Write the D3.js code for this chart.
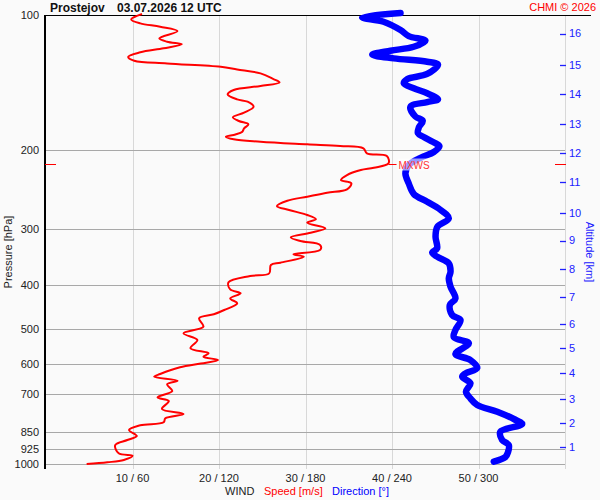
<!DOCTYPE html>
<html><head><meta charset="utf-8">
<script src="https://cdn.jsdelivr.net/npm/d3@7"></script>
<style>
body{margin:0;background:#fafafa;}
svg{display:block;font-family:"Liberation Sans",Arial,sans-serif;}
</style>
</head><body><svg id="c" width="600" height="500"></svg>
<script>
// ---- data ----
const stationName = "Prostejov";
const stationTime = "03.07.2026 12 UTC";
const pressureTicks = [100,200,300,400,500,600,700,850,925,1000];
const gridPressures = [200,300,400,500,600,700,850,925,1000];
const speedTicks = [10,20,30,40,50];
const dirTicks = [60,120,180,240,300];
const altitudeKm = [1,2,3,4,5,6,7,8,9,10,11,12,13,14,15,16];
const altitudeP = [916.5,810,716,628,552,488,424,368,318,276,236,203,175,150,129,110];

const speedP = [99.5,102.3,104.4,106.2,108.6,112.7,114.7,116.2,118.6,121.1,123.9,126.4,128.2,130.4,132.2,134.9,138.9,141.2,143.9,146.9,
  150.2,154.1,156.0,160.1,165,169.0,172.2,175.2,178.8,181.9,184.5,186.6,189.1,191.5,194.1,195.8,198.1,203.3,206.1,214,
  218.9,221.5,227.2,233.1,237.1,244.5,248.8,253.9,259.2,266.4,271.8,278.9,285.1,290.1,298.6,305.5,312.7,318.7,325.3,333.6,
  341.2,345.3,356.2,360.4,376.2,381.4,393.9,408.4,416.8,427.7,438.7,454,464.1,473.7,494.5,511.6,529.5,552.4,566.8,576.8,
  586.7,597.3,609.1,630.3,639.1,652.3,664.5,687.9,710.5,724.1,754.2,773.7,791,807.5,820,840,866.2,884.2,907.4,946.7,
  958.1,979.5,991.3,1000];
const speedMs = [11.1,9.85,10.9,13.2,15.2,13.1,14.0,15.7,13.6,10.9,9.5,10.2,14.0,20.2,22.1,24.8,26.3,27.0,24.8,21.7,
  21.0,22.1,23.3,24.0,22.9,21.6,22.3,23.4,22.9,22.7,21.9,20.8,21.7,24.8,30.2,34.0,36.7,37.1,39.4,39.6,
  37.9,36.4,34.8,34.1,35.3,34.8,32.5,30.2,27.9,26.7,28.1,30.2,31.2,30.2,32.3,30.6,28.3,29.4,31.7,31.7,
  28.6,29.8,27.1,26.0,25.8,23.6,21.1,21.3,22.5,21.3,22.1,20.6,19.4,17.7,18.2,15.9,17.5,16.7,18.8,18.2,
  19.9,17.9,15.5,13.2,12.5,15.2,14.0,14.6,12.9,14.2,13.4,15.9,13.8,13.6,10.9,9.6,10.5,9.4,8.0,8.4,
  10.0,9.0,7.1,4.7];

const dirP = [99,101.2,103.5,108.0,111.4,114.1,117.7,120.1,122.6,124.9,127.1,129.0,135.3,138.9,142.0,145.6,149.4,154.1,156.3,160.1,
  168.4,172.0,178.1,183.4,186.9,193.1,196.1,201.9,208.0,215.9,225.3,237.1,250.4,260.5,269.8,283.7,296.2,311.8,330.9,338.1,
  345.4,357.3,373.1,385.9,402.9,427.7,442.5,465.8,477.8,502.9,522.2,538.4,568.8,586.7,611.3,628.1,639.1,661.0,690.4,714.2,
  738.9,764.7,793.9,814.6,847.4,884.2,907.4,942.9,964.5,988.2];
const dirDeg = [245.9,219.3,234.1,245.9,251.6,263.2,255.1,238.9,226.3,241.2,264.4,271.9,264.4,250.7,248.2,255.1,264.4,271.9,264.4,252.8,
  256.3,261.3,258.6,258.0,262.0,270.2,272.9,269.0,259.8,251.6,249.3,251.6,255.1,264.4,272.4,279.4,271.5,270.2,271.3,267.9,
  271.3,279.4,280.6,279.4,280.6,284.0,280.1,281.7,287.5,284.0,282.9,293.3,284.0,294.4,299.1,291.0,288.7,294.4,291.3,294.4,
  299.1,313.0,324.5,330.3,315.2,316.4,321.0,320.4,318.7,310.6];

const maxWindP = 215;
const maxWindSpeed = 39.6;
const maxWindLabel = "MXWS";

// ---- drawing ----
const svg = d3.select("#c");
const x = d3.scaleLinear().domain([0,60]).range([46,565]);
const xd = d3.scaleLinear().domain([0,360]).range([46,565]);
const y = d3.scaleLog().domain([100,1000]).range([15,464]);
const RED = "#ff0000", BLUE = "#0000ff", TXT = "#222";

svg.append("rect").attr("width",600).attr("height",500).attr("fill","#fafafa");

// vertical grid
svg.append("g").selectAll("line").data(speedTicks.concat([60])).join("line")
  .attr("x1",d=>Math.round(x(d))+0.5).attr("x2",d=>Math.round(x(d))+0.5)
  .attr("y1",15).attr("y2",469).attr("stroke","#d8d8d8").attr("stroke-width",1);

// horizontal grid
svg.append("g").selectAll("line").data(gridPressures).join("line")
  .attr("x1",46).attr("x2",565)
  .attr("y1",d=>Math.round(y(d))+0.5).attr("y2",d=>Math.round(y(d))+0.5)
  .attr("stroke","#a8a8a8").attr("stroke-width",1);

// top border & left axis
svg.append("line").attr("x1",45).attr("x2",591).attr("y1",15.5).attr("y2",15.5).attr("stroke","#000").attr("stroke-width",1.2);
svg.append("line").attr("x1",45).attr("x2",45).attr("y1",15).attr("y2",469).attr("stroke","#000").attr("stroke-width",2);

// pressure labels
svg.append("g").selectAll("text").data(pressureTicks).join("text")
  .attr("x",39).attr("y",d=>y(d)).attr("dy","0.35em").attr("text-anchor","end")
  .attr("font-size",11).attr("fill",TXT).text(d=>d);
svg.append("text").attr("transform","translate(12,252) rotate(-90)").attr("text-anchor","middle")
  .attr("font-size",11).attr("fill",TXT).text("Pressure [hPa]");

// bottom labels
svg.append("g").selectAll("text").data(speedTicks).join("text")
  .attr("x",d=>x(d)).attr("y",482).attr("text-anchor","middle")
  .attr("font-size",11).attr("fill",TXT).text((d,i)=>d+" / "+dirTicks[i]);
svg.append("text").attr("x",225).attr("y",495).attr("font-size",11).attr("fill",TXT).text("WIND");
svg.append("text").attr("x",264).attr("y",495).attr("font-size",11).attr("fill",RED).text("Speed [m/s]");
svg.append("text").attr("x",332).attr("y",495).attr("font-size",11).attr("fill",BLUE).text("Direction [°]");

// altitude axis
const altG = svg.append("g");
altG.selectAll("line").data(altitudeKm).join("line")
  .attr("x1",560).attr("x2",566).attr("y1",(d,i)=>Math.round(y(altitudeP[i]))+0.5).attr("y2",(d,i)=>Math.round(y(altitudeP[i]))+0.5)
  .attr("stroke","#2020ff").attr("stroke-width",1.3);
altG.selectAll("text").data(altitudeKm).join("text")
  .attr("x",569).attr("y",(d,i)=>y(altitudeP[i])).attr("dy","0.35em")
  .attr("font-size",11).attr("fill","#2020ff").text(d=>d);
svg.append("text").attr("transform","translate(586,252) rotate(90)").attr("text-anchor","middle")
  .attr("font-size",11).attr("fill","#2020ff").text("Altitude [km]");

// title
svg.append("text").attr("x",50).attr("y",12).attr("font-size",12).attr("font-weight","bold").attr("fill","#111").text(stationName);
svg.append("text").attr("x",117).attr("y",12).attr("font-size",12).attr("font-weight","bold").attr("fill","#111").text(stationTime);
svg.append("text").attr("x",596).attr("y",11).attr("text-anchor","end").attr("font-size",11).attr("fill",RED).text("CHMI © 2026");

// speed profile
const speedData = speedP.map((p,i)=>({p, v:speedMs[i]}));
svg.append("path").datum(speedData)
  .attr("d", d3.line().x(d=>x(d.v)).y(d=>y(d.p)).curve(d3.curveCatmullRom.alpha(0.5)))
  .attr("fill","none").attr("stroke",RED).attr("stroke-width",2).attr("stroke-linejoin","round");

// direction profile
const dirData = dirP.map((p,i)=>({p, v:dirDeg[i]}));
svg.append("path").datum(dirData)
  .attr("d", d3.line().x(d=>xd(d.v)).y(d=>y(d.p)).curve(d3.curveCatmullRom.alpha(0.5)))
  .attr("fill","none").attr("stroke",BLUE).attr("stroke-width",6.5)
  .attr("stroke-linejoin","round").attr("stroke-linecap","round");

// max wind marker
const ym = Math.round(y(maxWindP))+0.5;
svg.append("line").attr("x1",45).attr("x2",56).attr("y1",ym).attr("y2",ym).attr("stroke",RED);
svg.append("line").attr("x1",555).attr("x2",566).attr("y1",ym).attr("y2",ym).attr("stroke",RED);
svg.append("line").attr("x1",x(maxWindSpeed)).attr("x2",x(maxWindSpeed)+8).attr("y1",ym).attr("y2",ym).attr("stroke",RED);
svg.append("rect").attr("x",x(maxWindSpeed)+9).attr("y",ym-6).attr("width",33).attr("height",12)
  .attr("fill","#ffffff").attr("opacity",0.6);
svg.append("text").attr("x",x(maxWindSpeed)+10).attr("y",ym+4).attr("font-size",10)
  .attr("fill","#ff3333").text(maxWindLabel);
</script>
</body></html>
